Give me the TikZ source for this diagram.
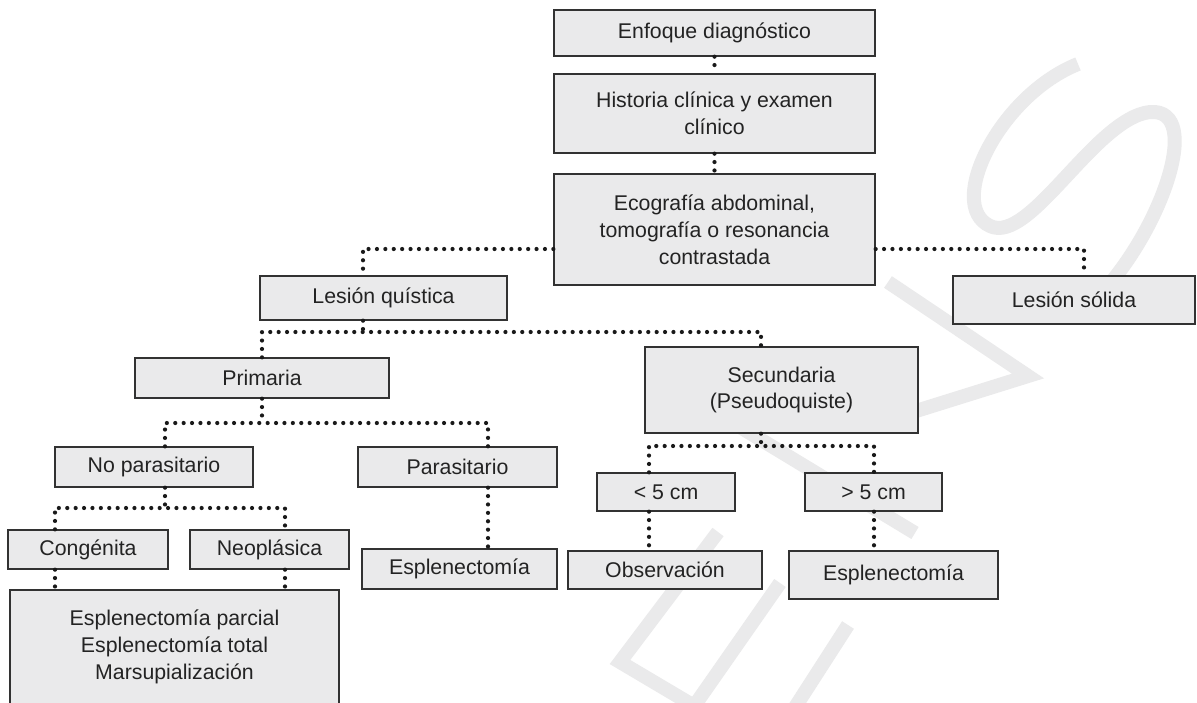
\documentclass[tikz,border=0pt]{standalone}
\usepackage{fontspec}
\setmainfont{Liberation Sans}
\definecolor{boxfill}{RGB}{234,234,235}
\definecolor{boxline}{RGB}{50,50,50}
\definecolor{txt}{RGB}{35,35,35}
\definecolor{dotc}{RGB}{25,25,25}
\definecolor{wmark}{RGB}{234,234,235}
\begin{document}
\begin{tikzpicture}[x=1pt,y=-1pt,
  box/.style={draw=boxline, line width=1.3pt, fill=boxfill, text=txt, inner sep=0pt, align=center,
    font=\fontsize{21.3}{26.8}\selectfont},
  conn/.style={draw=dotc, line width=4.2pt, line cap=round, dash pattern=on 0pt off 8.4pt},
  wm/.style={draw=wmark, line width=14pt}]
\useasboundingbox (0,0) rectangle (1197,702);
\fill[white] (0,0) rectangle (1197,702);
% watermark
\begin{scope}
\clip (0,0) rectangle (1197,702);
\draw[wm, line cap=butt] (1078,64) .. controls (1000,95) and (945,205) .. (990,226) .. controls (1030,245) and (1095,118) .. (1150,112) .. controls (1205,108) and (1160,235) .. (1095,300);
\draw[wm, line join=miter] (888,282) -- (1028,376) -- (900,416);
\draw[wm] (740,427) -- (915,533);
\draw[wm, line join=miter] (718,532) -- (620,662) -- (760,745);
\draw[wm] (780,583) -- (690,712);
\draw[wm] (848,625) -- (792,712);
\end{scope}
% boxes
\node[box, minimum width=321, minimum height=46] (enf) at (714.5,33) {Enfoque diagnóstico};
\node[box, minimum width=321, minimum height=79] (hist) at (714.5,113.5) {Historia clínica y examen\\clínico};
\node[box, minimum width=321, minimum height=111] (eco) at (714.5,229.5) {Ecografía abdominal,\\tomografía o resonancia\\contrastada};
\node[box, minimum width=247, minimum height=44] (quis) at (383.5,298) {Lesión quística};
\node[box, minimum width=242, minimum height=48] (sol) at (1074,300) {Lesión sólida};
\node[box, minimum width=254, minimum height=40] (prim) at (262,378) {Primaria};
\node[box, minimum width=273, minimum height=86] (sec) at (781.5,390) {Secundaria\\(Pseudoquiste)};
\node[box, minimum width=198, minimum height=40] (nopar) at (154,467) {No parasitario};
\node[box, minimum width=199, minimum height=40] (par) at (457.5,467) {Parasitario};
\node[box, minimum width=138, minimum height=38] (lt) at (666,492) {< 5 cm};
\node[box, minimum width=137, minimum height=38] (gt) at (873.5,492) {> 5 cm};
\node[box, minimum width=160, minimum height=39] (cong) at (88,549.5) {Congénita};
\node[box, minimum width=159, minimum height=39] (neo) at (269.5,549.5) {Neoplásica};
\node[box, minimum width=195, minimum height=40] (espa) at (459.5,569) {Esplenectomía};
\node[box, minimum width=194, minimum height=38] (obs) at (665,570) {Observación};
\node[box, minimum width=209, minimum height=48] (espb) at (893.5,575) {Esplenectomía};
\node[box, minimum width=329, minimum height=114] (big) at (174.5,647) {Esplenectomía parcial\\Esplenectomía total\\Marsupialización};
% junction coordinates
\coordinate (jq) at (363,249);
\coordinate (js) at (1084,249);
\coordinate (qj) at (363,332);
\coordinate (sj) at (761,332);
\coordinate (pj) at (262,423);
\coordinate (pl) at (165,423);
\coordinate (pr) at (488,423);
\coordinate (nl) at (55,508);
\coordinate (nr) at (285,508);
\coordinate (sl) at (649,446);
\coordinate (sr) at (874,446);
% connectors
\draw[conn] (enf) -- (hist);
\draw[conn] (hist) -- (eco);
\draw[conn] (jq -| eco.west) -- (jq) -- (jq |- quis.north);
\draw[conn] (js -| eco.east) -- (js) -- (js |- sol.north);
\draw[conn] (qj |- quis.south) -- (qj);
\draw[conn] (prim.north) -- (prim.north |- qj) -- (sj) -- (sj |- sec.north);
\draw[conn] (prim.south) -- (pj);
\draw[conn] (pl |- nopar.north) -- (pl) -- (pr) -- (pr |- par.north);
\draw[conn] (pl |- nopar.south) -- (pl |- nl);
\draw[conn] (nl |- cong.north) -- (nl) -- (nr) -- (nr |- neo.north);
\draw[conn] (nl |- cong.south) -- (nl |- big.north);
\draw[conn] (nr |- neo.south) -- (nr |- big.north);
\draw[conn] (pr |- par.south) -- (pr |- espa.north);
\draw[conn] (sj |- sec.south) -- (sj |- sl);
\draw[conn] (sl |- lt.north) -- (sl) -- (sr) -- (sr |- gt.north);
\draw[conn] (sl |- lt.south) -- (sl |- obs.north);
\draw[conn] (sr |- gt.south) -- (sr |- espb.north);
\end{tikzpicture}
\end{document}
